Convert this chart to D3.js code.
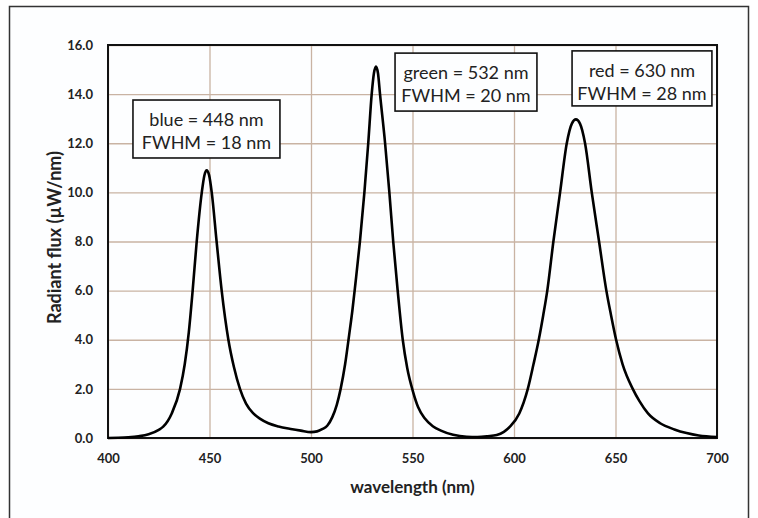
<!DOCTYPE html>
<html lang="en">
<head>
<meta charset="utf-8">
<title>Radiant flux spectrum</title>
<script src="https://d3js.org/d3.v7.min.js"></script>
<style>
  body { margin: 0; background: #fff; }
  text { font-family: Lato, "Open Sans", sans-serif; }
</style>
</head>
<body>
<script>
// spectrum (nm, µW/nm)
const wavelength = [400, 405, 410, 415, 420, 425, 427.2, 431.4, 435.5, 437.8, 439.8, 441.7, 443.7, 446.2, 447.5, 448.6, 449.8, 451.1, 453.5, 456.0, 459.3, 462, 465, 468, 471.6, 475, 479, 484, 490, 495, 500, 503, 505.5, 508, 510.5, 512.7, 514.6, 516.8, 518.8, 520.4, 521.9, 524.1, 526.3, 528.2, 529.9, 531, 532.0, 533, 534.0, 536.5, 538.6, 540.5, 542.7, 545.2, 547.4, 550.2, 552.8, 556, 560, 564, 570, 576.7, 582, 587, 591.5, 595, 598.0, 602.6, 606.8, 609.6, 612.2, 614.4, 616.4, 619.4, 622.7, 626.0, 628.5, 630.5, 632.5, 635.0, 638.3, 641.9, 645.5, 647.8, 650.3, 653.5, 658.5, 661.8, 666, 672, 679, 685, 691, 700];
const flux = [0.00, 0.01, 0.03, 0.07, 0.15, 0.33, 0.46, 1.0, 2.0, 3.0, 4.3, 6.0, 8.0, 10.0, 10.7, 10.9, 10.7, 10.0, 8.0, 6.0, 4.0, 2.9, 2.0, 1.4, 1.0, 0.78, 0.6, 0.47, 0.37, 0.3, 0.24, 0.27, 0.36, 0.5, 0.85, 1.35, 2.0, 3.0, 4.2, 5.2, 6.3, 8.0, 10.0, 12.0, 14.0, 14.85, 15.12, 14.85, 14.0, 12.0, 10.0, 8.0, 6.0, 4.0, 2.85, 1.9, 1.25, 0.8, 0.48, 0.3, 0.13, 0.05, 0.04, 0.07, 0.12, 0.25, 0.46, 1.0, 2.0, 3.0, 4.0, 5.0, 6.0, 8.0, 10.0, 12.0, 12.8, 12.97, 12.8, 12.0, 10.0, 8.0, 6.0, 5.0, 4.0, 3.0, 2.0, 1.5, 1.0, 0.6, 0.35, 0.2, 0.1, 0.04];

const xTicks = [400, 450, 500, 550, 600, 650, 700];
const yTicks = [0, 2, 4, 6, 8, 10, 12, 14, 16];

const peakNames = ["blue", "green", "red"];
const peakNm = [448, 532, 630];
const peakFwhm = [18, 20, 28];

const w = 758;
const h = 518;
const margin = {top: 45, right: 41, bottom: 80, left: 108};
const innerWidth = w - margin.left - margin.right;
const innerHeight = h - margin.top - margin.bottom;

const svg = d3.select("body")
  .append("svg")
  .attr("width", w)
  .attr("height", h);

// chart area background and frame (no bottom edge in the picture)
svg.append("rect")
  .attr("x", 9.5)
  .attr("y", 6.5)
  .attr("width", 739)
  .attr("height", h - 6.5)
  .attr("fill", "#fdfeff");

svg.append("path")
  .attr("d", `M9.5,${h} V6.5 H748.5 V${h}`)
  .attr("fill", "none")
  .attr("stroke", "#333")
  .attr("stroke-width", 1.5);

const xScale = d3.scaleLinear()
  .domain([400, 700])
  .range([0, innerWidth]);

const yScale = d3.scaleLinear()
  .domain([0, 16])
  .range([innerHeight, 0]);

const g = svg.append("g")
  .attr("transform", `translate(${margin.left}, ${margin.top})`);

// grid
const xGrid = g.append("g")
  .attr("class", "xGrid")
  .attr("transform", `translate(0, ${innerHeight})`)
  .call(d3.axisBottom(xScale).tickValues(xTicks).tickSize(-innerHeight));
xGrid.select(".domain").remove();
xGrid.selectAll("text").remove();
xGrid.selectAll("line")
  .attr("stroke", "#c9b3a3")
  .attr("stroke-width", 1.3);

const yGrid = g.append("g")
  .attr("class", "yGrid")
  .call(d3.axisLeft(yScale).tickValues(yTicks).tickSize(-innerWidth));
yGrid.select(".domain").remove();
yGrid.selectAll("text").remove();
yGrid.selectAll("line")
  .attr("stroke", "#c9b3a3")
  .attr("stroke-width", 1.3);

// plot border
g.append("rect")
  .attr("width", innerWidth)
  .attr("height", innerHeight)
  .attr("fill", "none")
  .attr("stroke", "#111")
  .attr("stroke-width", 2);

// tick labels
const xAxis = g.append("g")
  .attr("class", "xAxis")
  .attr("transform", `translate(0, ${innerHeight})`)
  .call(d3.axisBottom(xScale).tickValues(xTicks).tickSize(0).tickPadding(16).tickFormat(d3.format("d")));
xAxis.select(".domain").remove();

const yAxis = g.append("g")
  .attr("class", "yAxis")
  .call(d3.axisLeft(yScale).tickValues(yTicks).tickSize(0).tickPadding(15).tickFormat(d3.format(".1f")));
yAxis.select(".domain").remove();

svg.selectAll(".xAxis text, .yAxis text")
  .attr("font-family", "Lato, sans-serif")
  .attr("font-size", 13)
  .attr("font-weight", "bold")
  .attr("fill", "#222");

// spectrum line
const points = wavelength.map((d, i) => [d, flux[i]]);
const line = d3.line()
  .x(d => xScale(d[0]))
  .y(d => yScale(d[1]))
  .curve(d3.curveMonotoneX);

g.append("path")
  .datum(points)
  .attr("fill", "none")
  .attr("stroke", "#000")
  .attr("stroke-width", 2.6)
  .attr("stroke-linejoin", "round")
  .attr("d", line);

// label boxes, placed in data units
const boxPos = [
  {x0: 412.3, x1: 484.7, top: 13.76, bottom: 11.40},
  {x0: 541.4, x1: 611.3, top: 15.67, bottom: 13.31},
  {x0: 628.6, x1: 697.5, top: 15.76, bottom: 13.52}
];

peakNames.forEach((name, i) => {
  const b = boxPos[i];
  const bx = xScale(b.x0), by = yScale(b.top);
  const bw = xScale(b.x1) - bx, bh = yScale(b.bottom) - by;
  const box = g.append("g");
  box.append("rect")
    .attr("x", bx)
    .attr("y", by)
    .attr("width", bw)
    .attr("height", bh)
    .attr("fill", "#fdfeff")
    .attr("stroke", "#111")
    .attr("stroke-width", 1.6);
  box.append("text")
    .attr("x", bx + bw / 2)
    .attr("y", by + 26)
    .attr("text-anchor", "middle")
    .attr("font-size", 18)
    .attr("fill", "#222")
    .text(`${name} = ${peakNm[i]} nm`);
  box.append("text")
    .attr("x", bx + bw / 2)
    .attr("y", by + 49)
    .attr("text-anchor", "middle")
    .attr("font-size", 18)
    .attr("fill", "#222")
    .text(`FWHM = ${peakFwhm[i]} nm`);
});

// axis titles
svg.append("text")
  .attr("x", margin.left + innerWidth / 2)
  .attr("y", 493)
  .attr("text-anchor", "middle")
  .attr("font-size", 17)
  .attr("font-weight", "bold")
  .attr("fill", "#222")
  .text("wavelength (nm)");

svg.append("text")
  .attr("transform", `translate(61, ${margin.top + innerHeight / 2 - 4}) rotate(-90)`)
  .attr("text-anchor", "middle")
  .attr("font-size", 18)
  .attr("font-weight", "bold")
  .attr("fill", "#222")
  .text("Radiant flux (µW/nm)");
</script>
</body>
</html>
